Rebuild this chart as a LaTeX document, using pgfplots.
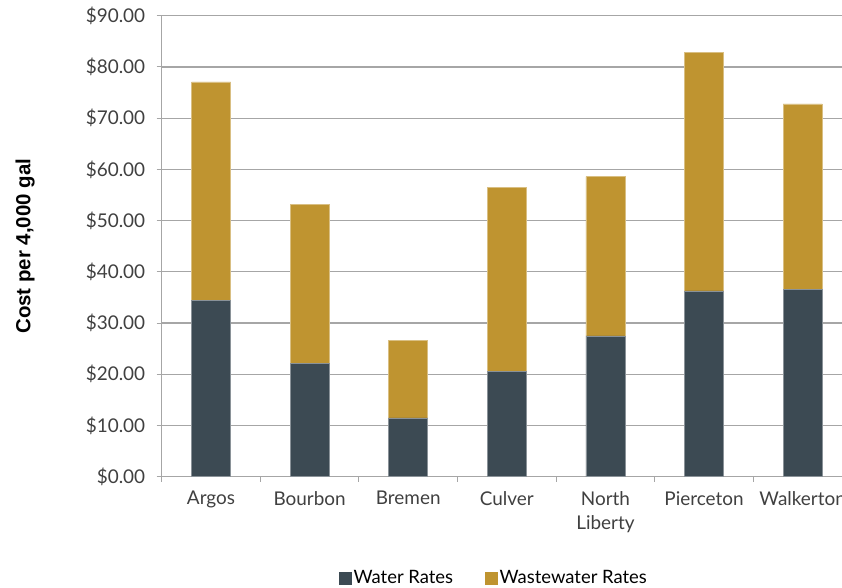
\documentclass[border=0pt]{standalone}
\usepackage{pgfplots}
\pgfplotsset{compat=1.18}
\usepackage{fontspec}
\setmainfont{Lato}
\newfontfamily\boldsans{Liberation Sans}
\definecolor{water}{HTML}{3C4A53}
\definecolor{waste}{HTML}{BF9430}
\definecolor{gridc}{HTML}{A6A6A6}
\definecolor{txt}{HTML}{404040}
\begin{document}
\begin{tikzpicture}
\begin{axis}[
  at={(161.7bp,111.3bp)}, anchor=south west,
  scale only axis, width=690.3bp, height=461bp,
  ybar stacked, bar width=39bp,
  xmin=-0.5, xmax=6.5, ymin=0, ymax=90,
  xtick={-0.5,0.5,...,6.5}, x tick label as interval,
  xticklabels={Argos,Bourbon,Bremen,Culver,{North\\Liberty},Pierceton,Walkerton},
  xticklabel style={align=center, font=\fontsize{19}{24}\selectfont, text=txt, yshift=-6bp},
  ytick={0,10,...,90},
  yticklabel={\$\pgfmathprintnumber[fixed,fixed zerofill,precision=2,assume math mode=true]{\tick}},
  yticklabel style={font=\fontsize{19}{24}\selectfont, text=txt, xshift=-8bp},
  axis x line*=bottom, axis y line*=left,
  axis line style={-, draw=gridc, line width=1bp},
  tick align=outside, major tick length=5bp,
  tick style={draw=gridc, line width=1bp},
  ymajorgrids, major grid style={draw=gridc, line width=1.2bp},
  ylabel={\boldsans\bfseries Cost per 4,000 gal},
  ylabel style={at={(axis description cs:-0.198,0.5)}, anchor=center, font=\fontsize{20.5}{24}\selectfont},
  legend style={at={(axis description cs:0.4814,-0.2197)}, anchor=center, draw=none,
    font=\fontsize{18.5}{22}\selectfont, /tikz/every even column/.append style={column sep=30bp}},
  legend columns=2,
]
\addplot[fill=water, draw=water!60!white, line width=0.5bp,
  legend image code/.code={\fill[water] (0bp,-6bp) rectangle (12bp,6bp);}]
  coordinates {(0,34.4) (1,22.1) (2,11.5) (3,20.6) (4,27.5) (5,36.3) (6,36.6)};
\addplot[fill=waste, draw=waste!60!white, line width=0.5bp,
  legend image code/.code={\fill[waste] (0bp,-6bp) rectangle (12bp,6bp);}]
  coordinates {(0,42.7) (1,31.1) (2,15.05) (3,35.9) (4,31.1) (5,46.5) (6,36.2)};
\legend{Water Rates, Wastewater Rates}
\end{axis}
\pgfresetboundingbox
\path[use as bounding box] (0,0) rectangle (842bp,588bp);
\end{tikzpicture}
\end{document}
